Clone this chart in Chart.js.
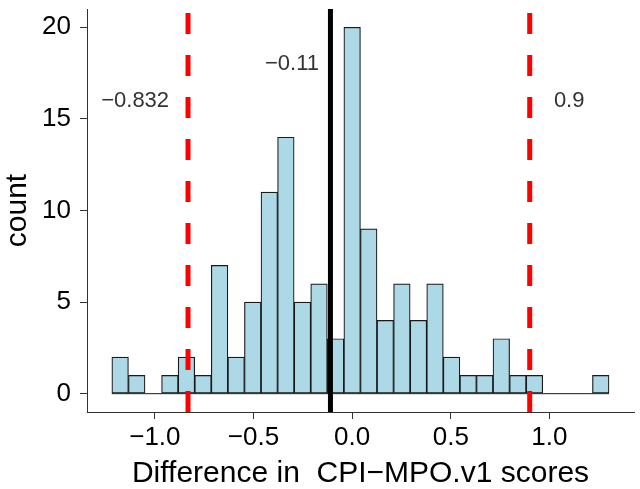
<!DOCTYPE html>
<html>
<head>
<meta charset="utf-8">
<script src="https://cdn.jsdelivr.net/npm/chart.js@4.4.1/dist/chart.umd.min.js"></script>
<style>
  html, body { margin: 0; padding: 0; background: #fff; }
  #wrap { width: 640px; height: 489px; }
</style>
</head>
<body>
<div id="wrap"><canvas id="hist"></canvas></div>
<script>
// histogram bins (30 bins)
const binStart = -1.218;
const binWidth = 0.084;
const counts = [2, 1, 0, 1, 2, 1, 7, 2, 5, 11, 14, 5, 6, 3, 20, 9, 4, 6, 4, 6, 2, 1, 1, 3, 1, 1, 0, 0, 0, 1];

// reference lines: limits of agreement (red dashed) and mean difference (black)
const limitValues = [-0.832, 0.9];
const meanValue = -0.11;

// text labels next to the lines
const annotTexts = ["\u22120.832", "\u22120.11", "0.9"];
const annotX = [-1.10, -0.305, 1.10];
const annotY = [16, 18, 16];

const xTickValues = [-1, -0.5, 0, 0.5, 1];
const xTickLabels = ["\u22121.0", "\u22120.5", "0.0", "0.5", "1.0"];
const yTickValues = [0, 5, 10, 15, 20];
const yTickLabels = ["0", "5", "10", "15", "20"];

const xMin = -1.344, xMax = 1.4286;
const yMin = -1, yMax = 21;

const FONT = "'Liberation Sans', Arial, sans-serif";
const AXIS_COL = "#333333";

const barData = counts.map((c, i) => ({ x: binStart + binWidth * (i + 0.5), y: c }));
const binEnd = binStart + binWidth * counts.length;

const vline = (v, color, dash) => ({
  type: "line",
  data: [{ x: v, y: yMin }, { x: v, y: yMax }],
  borderColor: color,
  borderWidth: 5,
  borderDash: dash,
  borderCapStyle: "butt",
  pointRadius: 0,
  order: 0
});

const annotPlugin = {
  id: "annot",
  afterDatasetsDraw(chart) {
    const ctx = chart.ctx;
    const xs = chart.scales.x, ys = chart.scales.y;
    ctx.save();
    ctx.font = "22px " + FONT;
    ctx.fillStyle = "#333333";
    ctx.textAlign = "center";
    ctx.textBaseline = "middle";
    annotTexts.forEach((t, i) => {
      ctx.fillText(t, xs.getPixelForValue(annotX[i]), ys.getPixelForValue(annotY[i]));
    });
    ctx.restore();
  }
};

new Chart(document.getElementById("hist").getContext("2d"), {
  data: {
    datasets: [
      vline(meanValue, "#000000", []),
      vline(limitValues[0], "#ff0000", [21, 21]),
      vline(limitValues[1], "#ff0000", [21, 21]),
      {
        type: "bar",
        data: barData,
        backgroundColor: "#add8e6",
        borderColor: "#1a1a1a",
        borderWidth: 1.2,
        borderSkipped: false,
        barPercentage: 1,
        categoryPercentage: 1,
        order: 5
      },
      {
        type: "line",
        data: [{ x: binStart, y: 0 }, { x: binEnd, y: 0 }],
        borderColor: "#1a1a1a",
        borderWidth: 1,
        pointRadius: 0,
        order: 6
      }
    ]
  },
  options: {
    responsive: true,
    maintainAspectRatio: false,
    animation: false,
    layout: { padding: { top: 9, right: 6, bottom: 0, left: 0 } },
    plugins: { legend: { display: false }, tooltip: { enabled: false } },
    scales: {
      x: {
        type: "linear",
        min: xMin,
        max: xMax,
        offset: false,
        afterBuildTicks: (s) => { s.ticks = xTickValues.map(v => ({ value: v })); },
        afterFit: (s) => { s.height = 77; s.paddingLeft = 0; s.paddingRight = 0; },
        ticks: {
          color: "#000",
          font: { family: FONT, size: 26 },
          padding: 3,
          maxRotation: 0,
          callback: (v) => xTickLabels[xTickValues.indexOf(v)]
        },
        grid: { display: true, offset: false, drawOnChartArea: false, drawTicks: true, tickLength: 7, color: AXIS_COL },
        border: { display: true, color: AXIS_COL, width: 1 },
        title: {
          display: true,
          text: "Difference in  CPI\u2212MPO.v1 scores",
          color: "#000",
          font: { family: FONT, size: 30 },
          padding: { top: 0, bottom: -3 }
        }
      },
      y: {
        type: "linear",
        min: yMin,
        max: yMax,
        afterBuildTicks: (s) => { s.ticks = yTickValues.map(v => ({ value: v })); },
        afterFit: (s) => { s.width = 87; s.paddingTop = 0; s.paddingBottom = 0; },
        ticks: {
          color: "#000",
          font: { family: FONT, size: 26 },
          padding: 9,
          callback: (v) => yTickLabels[yTickValues.indexOf(v)]
        },
        grid: { display: true, offset: false, drawOnChartArea: false, drawTicks: true, tickLength: 7, color: AXIS_COL },
        border: { display: true, color: AXIS_COL, width: 1 },
        title: {
          display: true,
          text: "count",
          color: "#000",
          font: { family: FONT, size: 30 },
          padding: { top: 0, bottom: 0 }
        }
      }
    }
  },
  plugins: [annotPlugin]
});
</script>
</body>
</html>
